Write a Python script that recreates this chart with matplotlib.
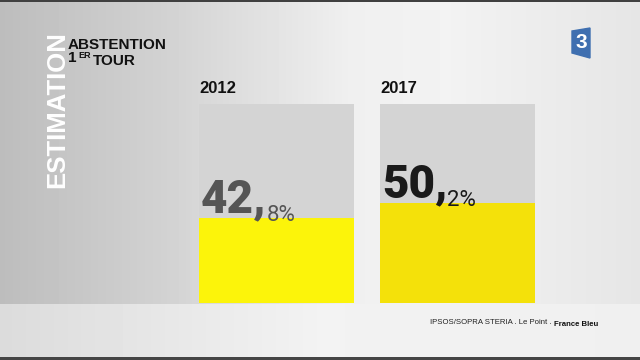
import numpy as np
import matplotlib.pyplot as plt
from matplotlib.patches import Polygon

years = ["2012", "2017"]
abstention = [42.8, 50.2]
entiers = ["42,", "50,"]
decimales = ["8%", "2%"]
couleurs = ["#fcf40a", "#f4e10a"]
couleurs_txt = ["#555555", "#1a1a1a"]
source = "IPSOS/SOPRA STERIA . Le Point . "
source_bold = "France Bleu"

W, H = 640, 360
fig = plt.figure(figsize=(6.4, 3.6), dpi=100)

# fond en dégradé
bg = fig.add_axes([0, 0, 1, 1])
xs = np.linspace(0, 1, W)
haut = np.interp(xs, [0, 0.25, 0.55, 0.7, 1], [0.74, 0.82, 0.94, 0.95, 0.90])
bas = np.interp(xs, [0, 0.5, 1], [0.86, 0.95, 0.94])
img = np.zeros((H, W))
img[:304] = haut
img[304:] = bas
img[:2] = 0.25
img[357:] = 0.27
bg.imshow(img, cmap="gray", vmin=0, vmax=1, aspect="auto", extent=[0, W, H, 0])
bg.set_xlim(0, W)
bg.set_ylim(H, 0)
bg.axis("off")

# logo France 3
bg.add_patch(Polygon([[572, 31], [590, 28], [590, 58], [572, 53]], closed=True,
                     color="#3f6fb0"))
bg.text(581, 43, "3", color="white", fontsize=15, fontweight="bold",
        family="Liberation Sans", ha="center", va="center")

# barres
w = 155 / 181
ax = fig.add_axes([199 / W, (H - 303) / H, 336 / W, 199 / H])
x = np.arange(len(years))
ax.bar(x, [100] * len(years), width=w, color="#d4d4d4")
ax.bar(x, abstention, width=w, color=couleurs)
ax.set_xlim(-w / 2, 1 + w / 2)
ax.set_ylim(0, 100)
ax.axis("off")

for i in range(len(years)):
    ax.text(x[i] - w / 2, 104, years[i], fontsize=12, fontweight="bold",
            family="Liberation Sans", color="#111111", va="bottom")
    t = ax.text(x[i] - w / 2 + 0.01, abstention[i] + 3, entiers[i], fontsize=33,
                fontweight="black", family="Roboto",
                color=couleurs_txt[i], va="baseline")
    ax.annotate(decimales[i], xycoords=t, xy=(1, 0), xytext=(0, 0),
                textcoords="offset points", fontsize=16, family="Roboto",
                fontweight="normal", color=couleurs_txt[i], va="baseline")

# titres
fig.text(45 / W, 1 - 188 / H, "ESTIMATION", rotation=90, fontsize=18.5,
         fontweight="bold", family="Liberation Sans", color="white",
         ha="left", va="bottom")
fig.text(68 / W, 1 - 49 / H, "ABSTENTION", fontsize=11, fontweight="bold",
         family="Liberation Sans", color="#111111", va="baseline")
t1 = fig.text(68 / W, 1 - 62 / H, "1", fontsize=11, fontweight="bold",
              family="Liberation Sans", color="#111111", va="baseline")
bg.annotate("ER", xycoords=t1, xy=(1, 0.5), xytext=(1, 0),
            textcoords="offset points", fontsize=6.5, fontweight="bold",
            family="Liberation Sans", color="#111111", va="baseline")
bg.annotate("TOUR", xycoords=t1, xy=(1, 0), xytext=(12, 0), textcoords="offset points",
            fontsize=11, fontweight="bold", family="Liberation Sans",
            color="#111111", va="baseline")

# source
s = fig.text(430 / W, 1 - 324 / H, source, fontsize=5.6, family="Liberation Sans",
             color="#222222", va="baseline")
bg.annotate(source_bold, xycoords=s, xy=(1, 0), fontsize=5.6, fontweight="bold",
            family="Liberation Sans", color="#111111", va="baseline")

fig.savefig("out.png", dpi=100)
